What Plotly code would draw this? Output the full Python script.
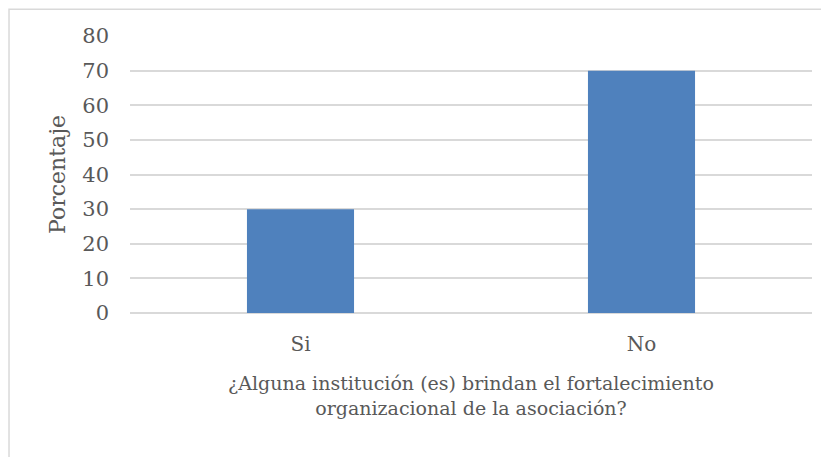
import plotly.graph_objects as go

# Data
categories = ['Si', 'No']
values = [30, 70]
y_ticks = [0, 10, 20, 30, 40, 50, 60, 70, 80]

font_family = 'DejaVu Serif, Liberation Serif, serif'
text_color = '#595959'

fig = go.Figure(go.Bar(
    x=categories,
    y=values,
    marker=dict(color='#4f81bd', line=dict(width=0)),
    hovertemplate='%{x}: %{y}<extra></extra>'
))

# page adds an 8px body margin, so the figure is sized to fit inside the window
fig.update_layout(
    width=821,
    height=449,
    margin=dict(l=122, r=17, t=28, b=144),
    paper_bgcolor='white',
    plot_bgcolor='white',
    bargap=0.686,
    showlegend=False,
    font=dict(family=font_family, color=text_color, size=20),
)

fig.update_yaxes(
    range=[0, 80],
    tickvals=y_ticks,
    showgrid=True,
    gridcolor='#d9d9d9',
    gridwidth=1.5,
    zeroline=True,
    zerolinecolor='#d9d9d9',
    zerolinewidth=1.5,
    showline=False,
    ticks='',
    ticklabelstandoff=20,
    tickfont=dict(size=21),
    title=dict(text='Porcentaje', font=dict(size=22), standoff=10),
)
fig.update_xaxes(
    showgrid=False,
    showline=False,
    ticks='',
    ticklabelstandoff=17,
    tickfont=dict(size=20),
    title=dict(text='¿Alguna institución (es) brindan el fortalecimiento<br>organizacional de la asociación?',
               font=dict(size=19), standoff=21),
)

# chart border
fig.add_shape(type='rect', xref='paper', yref='paper',
              x0=-0.1774, x1=1.06, y0=-0.7, y1=1.097,
              line=dict(color='#d9d9d9', width=1.5), fillcolor='rgba(0,0,0,0)', layer='below')

fig.write_html('out.html')
